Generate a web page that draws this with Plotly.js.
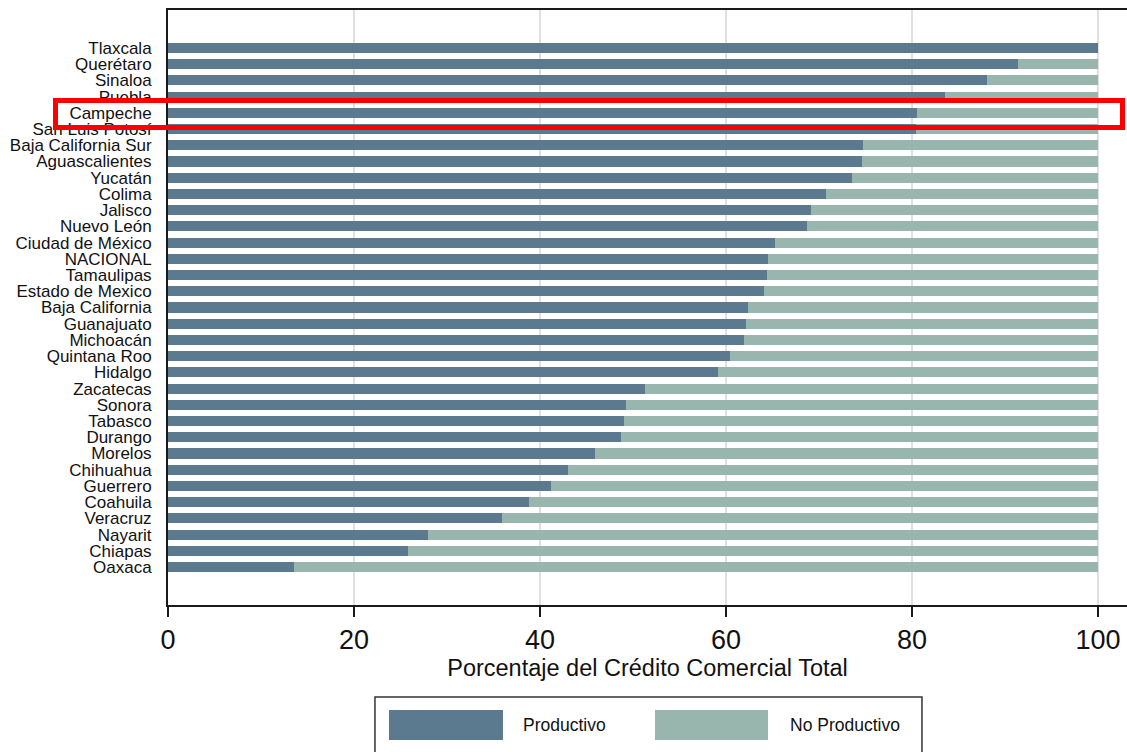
<!DOCTYPE html>
<html>
<head>
<meta charset="utf-8">
<script src="https://cdn.plot.ly/plotly-3.0.1.min.js"></script>
<style>
  html, body { margin: 0; padding: 0; background: #ffffff; }
  #chart { width: 1127px; height: 752px; }
</style>
</head>
<body>
<div id="chart"></div>
<script>
// ---- Data ----
const states = ["Tlaxcala","Querétaro","Sinaloa","Puebla","Campeche","San Luis Potosí",
  "Baja California Sur","Aguascalientes","Yucatán","Colima","Jalisco","Nuevo León",
  "Ciudad de México","NACIONAL","Tamaulipas","Estado de Mexico","Baja California",
  "Guanajuato","Michoacán","Quintana Roo","Hidalgo","Zacatecas","Sonora","Tabasco",
  "Durango","Morelos","Chihuahua","Guerrero","Coahuila","Veracruz","Nayarit","Chiapas","Oaxaca"];
const productivo = [100, 91.4, 88.1, 83.5, 80.5, 80.4, 74.7, 74.6, 73.5, 70.8, 69.1, 68.7,
  65.3, 64.5, 64.4, 64.1, 62.4, 62.2, 61.9, 60.4, 59.1, 51.3, 49.2, 49.0,
  48.7, 45.9, 43.0, 41.2, 38.8, 35.9, 28.0, 25.8, 13.5];
const noProductivo = [0, 8.6, 11.9, 16.5, 19.5, 19.6, 25.3, 25.4, 26.5, 29.2, 30.9, 31.3,
  34.7, 35.5, 35.6, 35.9, 37.6, 37.8, 38.1, 39.6, 40.9, 48.7, 50.8, 51.0,
  51.3, 54.1, 57.0, 58.8, 61.2, 64.1, 72.0, 74.2, 86.5];
const xTicks = [0, 20, 40, 60, 80, 100];
const seriesNames = ["Productivo", "No Productivo"];
const xTitle = "Porcentaje del Crédito Comercial Total";
const highlighted = "Campeche";

// ---- Styles ----
const colProd = "#5b7a90";
const colNoProd = "#98b6ae";
const fontFam = "Liberation Sans, Arial, Helvetica, sans-serif";

const traces = [
  {type: "bar", orientation: "h", y: states, x: productivo, name: seriesNames[0],
   marker: {color: colProd, line: {width: 0}}, width: 0.62, hoverinfo: "x+y"},
  {type: "bar", orientation: "h", y: states, x: noProductivo, name: seriesNames[1],
   marker: {color: colNoProd, line: {width: 0}}, width: 0.62, hoverinfo: "x+y"}
];

// custom legend (big swatches as in the reference)
const legendShapes = [
  {type: "rect", xref: "paper", yref: "paper", x0: 0.2158, x1: 0.7862, y0: -0.30, y1: -0.1546,
   line: {color: "#333333", width: 1.5}, fillcolor: "rgba(0,0,0,0)", layer: "above"},
  {type: "rect", xref: "paper", yref: "paper", x0: 0.2304, x1: 0.3493, y0: -0.2269, y1: -0.1765,
   line: {width: 0}, fillcolor: colProd, layer: "above"},
  {type: "rect", xref: "paper", yref: "paper", x0: 0.5078, x1: 0.6257, y0: -0.2269, y1: -0.1765,
   line: {width: 0}, fillcolor: colNoProd, layer: "above"},
  // red highlight box around the highlighted state
  {type: "rect", xref: "paper", yref: "paper", x0: -0.1173, x1: 0.9953, y0: 0.8025, y1: 0.8479,
   line: {color: "#ff0000", width: 5}, fillcolor: "rgba(0,0,0,0)", layer: "above"}
];
const legendAnn = [
  {xref: "paper", yref: "paper", x: 0.3681, y: -0.2017, xanchor: "left", yanchor: "middle",
   text: seriesNames[0], showarrow: false, font: {family: fontFam, size: 17.5, color: "#111"}},
  {xref: "paper", yref: "paper", x: 0.6465, y: -0.2017, xanchor: "left", yanchor: "middle",
   text: seriesNames[1], showarrow: false, font: {family: fontFam, size: 17.5, color: "#111"}}
];

const layout = {
  width: 1127, height: 752,
  margin: {l: 168, r: 0, t: 10, b: 147, pad: 0},
  paper_bgcolor: "#ffffff", plot_bgcolor: "#ffffff",
  barmode: "stack",
  showlegend: false,
  font: {family: fontFam, color: "#111"},
  xaxis: {
    range: [0, 103.12], tickmode: "array", tickvals: xTicks, ticktext: xTicks.map(String),
    showgrid: true, gridcolor: "#e0e0e0", gridwidth: 1.5, zeroline: false,
    showline: true, linecolor: "#1a1a1a", linewidth: 2, mirror: true,
    ticks: "outside", ticklen: 10, tickwidth: 1.5, tickcolor: "#1a1a1a",
    tickfont: {family: fontFam, size: 27, color: "#111"},
    title: {text: xTitle, font: {family: fontFam, size: 23.5, color: "#111"}, standoff: 5},
    fixedrange: true
  },
  yaxis: {
    type: "category", categoryorder: "array", categoryarray: states,
    tickmode: "array", tickvals: states, ticktext: states,
    range: [34.34, -2.34],
    showgrid: false, zeroline: false,
    showline: true, linecolor: "#1a1a1a", linewidth: 2,
    ticks: "", ticklabelstandoff: 11,
    tickfont: {family: fontFam, size: 17, color: "#111"},
    fixedrange: true
  },
  shapes: legendShapes,
  annotations: legendAnn
};

Plotly.newPlot("chart", traces, layout, {displayModeBar: false, staticPlot: true});
</script>
</body>
</html>
